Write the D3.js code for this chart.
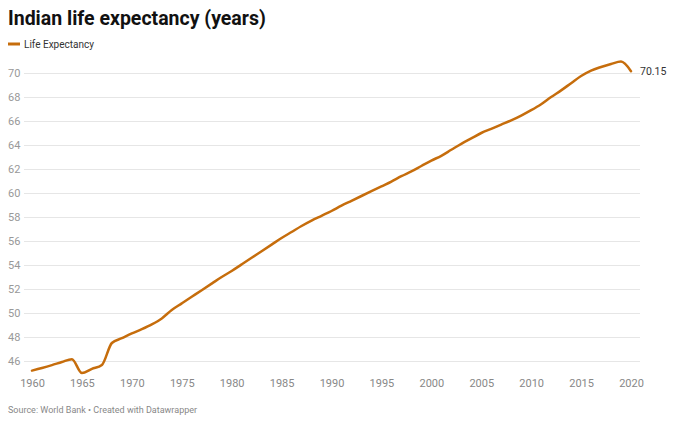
<!DOCTYPE html>
<html><head><meta charset="utf-8">
<script src="https://cdn.jsdelivr.net/npm/d3@7"></script>
<style>
body{margin:0;background:#fff;font-family:Roboto,"Noto Sans",sans-serif;}
</style></head>
<body><svg id="c" width="680" height="424"></svg>
<script>
const years = d3.range(1960, 2021);
const lifeExpectancy = [
45.2,45.42,45.66,45.92,46.15,45.0,45.35,45.67,47.5,47.9,
48.3,48.65,49.05,49.55,50.25,50.8,51.35,51.9,52.45,53.0,
53.5,54.05,54.6,55.15,55.7,56.25,56.75,57.25,57.7,58.1,
58.5,58.95,59.35,59.75,60.15,60.55,60.95,61.4,61.8,62.25,
62.7,63.1,63.6,64.1,64.55,65.0,65.35,65.7,66.05,66.45,
66.9,67.4,68.0,68.55,69.15,69.75,70.2,70.5,70.75,70.95,
70.15];
const yTicks = [46,48,50,52,54,56,58,60,62,64,66,68,70];
const xTicks = [1960,1965,1970,1975,1980,1985,1990,1995,2000,2005,2010,2015,2020];
const title = "Indian life expectancy (years)";
const seriesName = "Life Expectancy";
const source = "Source: World Bank • Created with Datawrapper";

const svg = d3.select("#c");
const color = "#c66d0c";
const x = d3.scaleLinear().domain([1960,2020]).range([32,631]);
const y = d3.scaleLinear().domain([46,70]).range([361,73]);

svg.append("text").attr("x",8).attr("y",25).text(title)
  .attr("font-size",19.5).attr("font-weight",700).attr("fill","#111");

svg.append("line").attr("x1",8).attr("x2",20).attr("y1",44).attr("y2",44)
  .attr("stroke",color).attr("stroke-width",3);
svg.append("text").attr("x",24).attr("y",47.5).text(seriesName)
  .attr("font-size",10).attr("fill","#333");

const yAxis = d3.axisLeft(y).tickValues(yTicks).tickSize(-(640-24)).tickFormat(d3.format("d"));
const gy = svg.append("g").attr("transform","translate(24,0)").call(yAxis);
gy.select(".domain").remove();
gy.selectAll(".tick line").attr("stroke","#e6e6e6");
gy.selectAll(".tick text").attr("x",-16).attr("text-anchor","start")
  .attr("font-family","Roboto").attr("font-size",11).attr("fill","#999");

const xAxis = d3.axisBottom(x).tickValues(xTicks).tickSize(0).tickFormat(d3.format("d"));
const gx = svg.append("g").attr("transform","translate(0,376)").call(xAxis);
gx.select(".domain").remove();
gx.selectAll(".tick text").attr("dy","0.71em").attr("y",3)
  .attr("font-family","Roboto").attr("font-size",11).attr("fill","#888");

const data = years.map((yr,i)=>({yr, v: lifeExpectancy[i]}));
const line = d3.line().x(d=>x(d.yr)).y(d=>y(d.v)).curve(d3.curveMonotoneX);
svg.append("path").datum(data).attr("d",line).attr("fill","none")
  .attr("stroke",color).attr("stroke-width",2.5).attr("stroke-linejoin","round").attr("stroke-linecap","round");

const last = data[data.length-1];
svg.append("text").attr("x",x(last.yr)+9).attr("y",y(last.v)).attr("dy","0.35em")
  .text(d3.format(".2f")(last.v)).attr("font-size",10.5).attr("fill","#333");

svg.append("text").attr("x",8).attr("y",413).text(source)
  .attr("font-size",9).attr("fill","#888");
</script></body></html>
